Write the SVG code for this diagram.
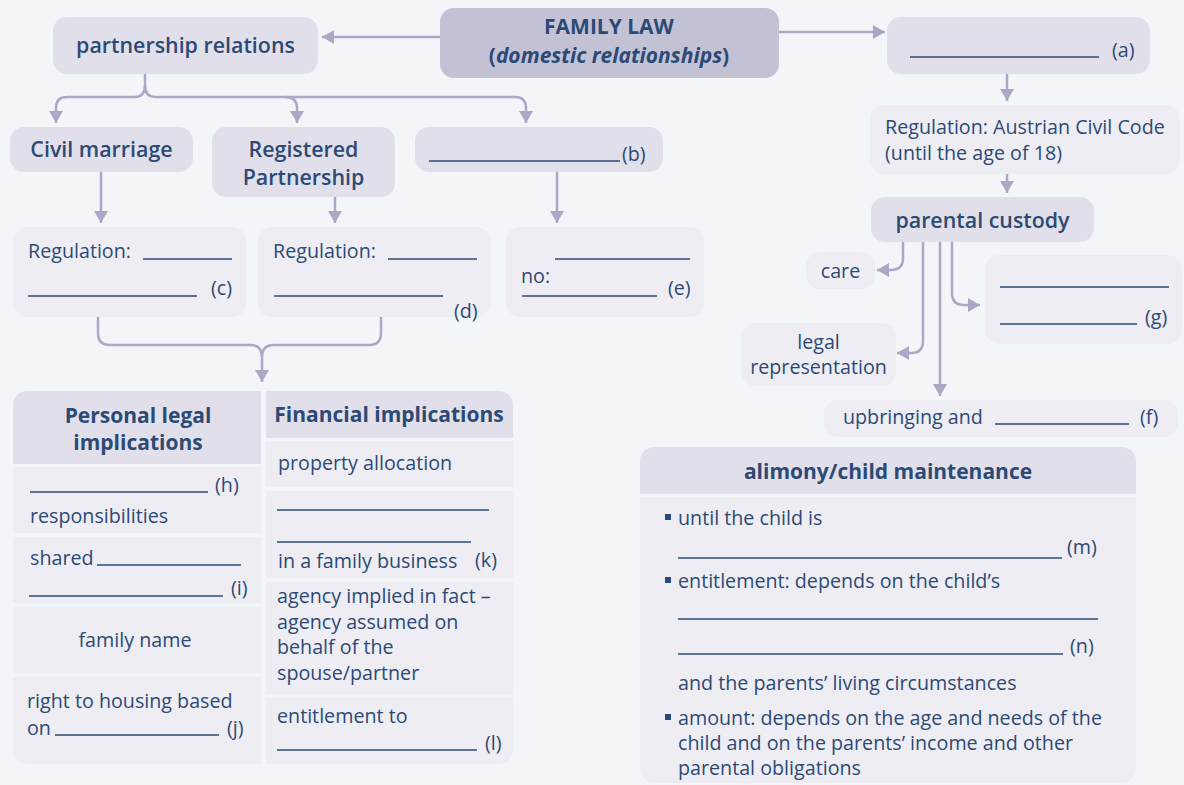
<svg xmlns="http://www.w3.org/2000/svg" width="1184" height="785" viewBox="0 0 1184 785">
<defs>
<style>
.t{font-family:"Open Sans","Noto Sans",sans-serif;fill:#2c4a75;font-size:19.7px}
.h{font-weight:600;font-size:21.4px}
.b{font-weight:700;font-size:21px}
.m{text-anchor:middle}
.n{fill:#e1e0ea}
.l{fill:#eeedf4}
.ul{stroke:#2c4a75;stroke-width:1.5;fill:none}
.c{stroke:#a9a9c5;stroke-width:2.5;fill:none}
</style>
<marker id="ah" markerUnits="userSpaceOnUse" markerWidth="12" markerHeight="14" viewBox="0 0 12 14" refX="12" refY="7" orient="auto">
<path d="M0,0 L12,7 L0,14 Z" fill="#a9a9c5"/>
</marker>
<clipPath id="tbl"><rect x="13" y="391" width="500" height="373" rx="14"/></clipPath>
<clipPath id="ali"><rect x="640" y="447" width="496" height="336" rx="14"/></clipPath>
</defs>
<rect width="1184" height="785" fill="#f3f6f9"/>

<g id="connectors">
<path class="c" d="M440,37 H322" marker-end="url(#ah)"/>
<path class="c" d="M779,32 H885" marker-end="url(#ah)"/>
<path class="c" d="M145,74 V86 Q145,97 134,97 H67 Q56,97 56,108 V123" marker-end="url(#ah)"/>
<path class="c" d="M145,86 Q145,97 156,97 H515 Q526,97 526,108 V123" marker-end="url(#ah)"/>
<path class="c" d="M285,97 Q297,97 297,108 V123" marker-end="url(#ah)"/>
<path class="c" d="M101,172 V223" marker-end="url(#ah)"/>
<path class="c" d="M335,197 V223" marker-end="url(#ah)"/>
<path class="c" d="M557,172 V223" marker-end="url(#ah)"/>
<path class="c" d="M98,317 V333 Q98,345 110,345 H250 Q262,345 262,357 V382" marker-end="url(#ah)"/>
<path class="c" d="M381,317 V333 Q381,345 369,345 H274 Q262,345 262,357"/>
<path class="c" d="M1007,74 V101" marker-end="url(#ah)"/>
<path class="c" d="M1007,174 V193" marker-end="url(#ah)"/>
<path class="c" d="M903,242 V258 Q903,270 891,270 H877" marker-end="url(#ah)"/>
<path class="c" d="M923,242 V341 Q923,353 911,353 H897" marker-end="url(#ah)"/>
<path class="c" d="M940,242 V396" marker-end="url(#ah)"/>
<path class="c" d="M952,242 V293 Q952,305 964,305 H980" marker-end="url(#ah)"/>
</g>

<g id="family-law">
<rect x="440" y="8" width="339" height="70" rx="14" fill="#c3c2d5"/>
<text class="t b m" x="609" y="34">FAMILY LAW</text>
<text class="t b m" x="609" y="63">(<tspan font-style="italic">domestic relationships</tspan>)</text>
</g>

<g id="partnership-relations">
<rect class="n" x="53" y="17" width="265" height="57" rx="14"/>
<text class="t h m" x="185.5" y="53">partnership relations</text>
</g>

<g id="node-a">
<rect class="n" x="887" y="17" width="263" height="57" rx="14"/>
<line class="ul" x1="910" y1="57" x2="1099" y2="57"/>
<text class="t" x="1112" y="57">(a)</text>
</g>

<g id="regulation-abgb">
<rect class="l" x="870" y="105" width="310" height="69" rx="14"/>
<text class="t" x="885" y="134">Regulation: Austrian Civil Code</text>
<text class="t" x="885" y="160">(until the age of 18)</text>
</g>

<g id="parental-custody">
<rect class="n" x="871" y="197" width="223" height="45" rx="14"/>
<text class="t h m" x="982.5" y="228">parental custody</text>
</g>

<g id="care">
<rect class="l" x="806" y="252" width="69" height="37" rx="14"/>
<text class="t m" x="840.5" y="278">care</text>
</g>

<g id="node-g">
<rect class="l" x="985" y="255" width="197" height="89" rx="14"/>
<line class="ul" x1="1000" y1="287" x2="1169" y2="287"/>
<line class="ul" x1="1000" y1="324" x2="1137" y2="324"/>
<text class="t" x="1145" y="324">(g)</text>
</g>

<g id="legal-representation">
<rect class="l" x="741" y="323" width="155" height="63" rx="14"/>
<text class="t m" x="818.5" y="349">legal</text>
<text class="t m" x="818.5" y="374">representation</text>
</g>

<g id="upbringing">
<rect class="l" x="824" y="400" width="354" height="37" rx="14"/>
<text class="t" x="843" y="424">upbringing and</text>
<line class="ul" x1="995" y1="424" x2="1129" y2="424"/>
<text class="t" x="1140" y="424">(f)</text>
</g>

<g id="civil-marriage">
<rect class="n" x="10" y="127" width="183" height="45" rx="14"/>
<text class="t h m" x="101.5" y="157">Civil marriage</text>
</g>

<g id="registered-partnership">
<rect class="n" x="212" y="127" width="183" height="70" rx="14"/>
<text class="t h m" x="303.5" y="157">Registered</text>
<text class="t h m" x="303.5" y="185">Partnership</text>
</g>

<g id="node-b">
<rect class="n" x="415" y="127" width="248" height="45" rx="14"/>
<line class="ul" x1="429" y1="161" x2="620" y2="161"/>
<text class="t" x="622" y="161">(b)</text>
</g>

<g id="node-c">
<rect class="l" x="13" y="227" width="233" height="90" rx="14"/>
<text class="t" x="28" y="258">Regulation:</text>
<line class="ul" x1="143" y1="259" x2="232" y2="259"/>
<line class="ul" x1="28" y1="296" x2="197" y2="296"/>
<text class="t" x="211" y="295">(c)</text>
</g>

<g id="node-d">
<rect class="l" x="258" y="227" width="233" height="90" rx="14"/>
<text class="t" x="273" y="258">Regulation:</text>
<line class="ul" x1="388" y1="259" x2="477" y2="259"/>
<line class="ul" x1="274" y1="296" x2="443" y2="296"/>
<text class="t" x="454" y="318">(d)</text>
</g>

<g id="node-e">
<rect class="l" x="506" y="227" width="198" height="90" rx="14"/>
<line class="ul" x1="555" y1="259" x2="690" y2="259"/>
<text class="t" x="521" y="283">no:</text>
<line class="ul" x1="522" y1="296" x2="657" y2="296"/>
<text class="t" x="668" y="295">(e)</text>
</g>

<g id="implications-table">
<g clip-path="url(#tbl)">
<rect class="n" x="13" y="391" width="248" height="73"/>
<rect class="l" x="13" y="467" width="248" height="66"/>
<rect class="l" x="13" y="537" width="248" height="66"/>
<rect class="l" x="13" y="607" width="248" height="66"/>
<rect class="l" x="13" y="677" width="248" height="87"/>
<rect class="n" x="266" y="391" width="247" height="47"/>
<rect class="l" x="266" y="441" width="247" height="46"/>
<rect class="l" x="266" y="491" width="247" height="87"/>
<rect class="l" x="266" y="582" width="247" height="112"/>
<rect class="l" x="266" y="698" width="247" height="66"/>
</g>
<text class="t b m" x="138" y="423">Personal legal</text>
<text class="t b m" x="138" y="450">implications</text>
<text class="t b m" x="389" y="422">Financial implications</text>
<line class="ul" x1="30" y1="492" x2="208" y2="492"/>
<text class="t" x="215" y="492">(h)</text>
<text class="t" x="30" y="523">responsibilities</text>
<text class="t" x="30" y="565">shared</text>
<line class="ul" x1="97" y1="565" x2="241" y2="565"/>
<line class="ul" x1="29" y1="596" x2="223" y2="596"/>
<text class="t" x="231" y="595">(i)</text>
<text class="t m" x="135" y="647">family name</text>
<text class="t" x="27" y="708">right to housing based</text>
<text class="t" x="27" y="735">on</text>
<line class="ul" x1="55" y1="735" x2="219" y2="735"/>
<text class="t" x="227" y="735">(j)</text>
<text class="t" x="278" y="470">property allocation</text>
<line class="ul" x1="277" y1="510" x2="489" y2="510"/>
<line class="ul" x1="277" y1="542" x2="471" y2="542"/>
<text class="t" x="278" y="568">in a family business</text>
<text class="t" x="475" y="567">(k)</text>
<text class="t" x="277" y="603">agency implied in fact –</text>
<text class="t" x="277" y="629">agency assumed on</text>
<text class="t" x="277" y="654">behalf of the</text>
<text class="t" x="277" y="680">spouse/partner</text>
<text class="t" x="277" y="723">entitlement to</text>
<line class="ul" x1="277" y1="750" x2="477" y2="750"/>
<text class="t" x="485" y="750">(l)</text>
</g>

<g id="alimony">
<g clip-path="url(#ali)">
<rect class="n" x="640" y="447" width="496" height="47"/>
<rect class="l" x="640" y="497" width="496" height="286"/>
</g>
<text class="t b m" x="888" y="479">alimony/child maintenance</text>
<rect x="665" y="514" width="6" height="6" fill="#2c4a75"/>
<text class="t" x="678" y="525">until the child is</text>
<line class="ul" x1="678" y1="558" x2="1062" y2="558"/>
<text class="t" x="1067" y="554">(m)</text>
<rect x="665" y="577" width="6" height="6" fill="#2c4a75"/>
<text class="t" x="678" y="588">entitlement: depends on the child’s</text>
<line class="ul" x1="678" y1="619" x2="1098" y2="619"/>
<line class="ul" x1="678" y1="654" x2="1063" y2="654"/>
<text class="t" x="1070" y="653">(n)</text>
<text class="t" x="678" y="690">and the parents’ living circumstances</text>
<rect x="665" y="714" width="6" height="6" fill="#2c4a75"/>
<text class="t" x="678" y="725">amount: depends on the age and needs of the</text>
<text class="t" x="678" y="750">child and on the parents’ income and other</text>
<text class="t" x="678" y="775">parental obligations</text>
</g>
</svg>
